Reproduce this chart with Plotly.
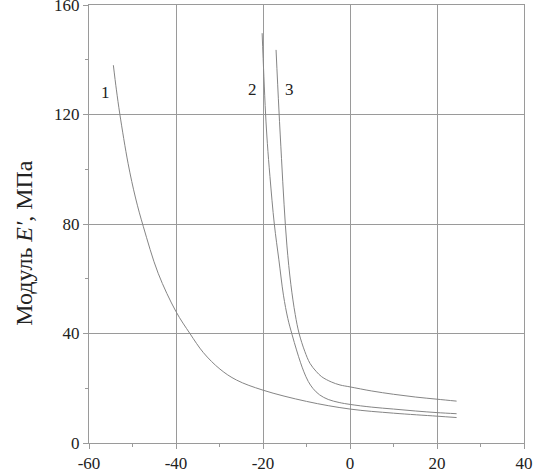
import plotly.graph_objects as go

LINE = "#858585"
GRID = "#9a9a9a"
FONT = "Liberation Serif, Times New Roman, serif"

# curve 1
x1 = [-54.4, -53.7, -52.9, -51.0, -49.3, -47.5, -44.1, -40.0, -36.8, -33.7, -29.9, -26.1, -20.0, -10.0, 0.0, 10.0, 20.0, 24.5]
y1 = [138.0, 129.0, 120.0, 102.0, 89.5, 79.0, 62.0, 48.0, 40.0, 33.0, 27.0, 23.0, 19.3, 15.2, 12.4, 10.9, 9.8, 9.3]

# curve 2
x2 = [-20.2, -19.8, -19.4, -19.0, -18.4, -17.4, -16.35, -15.3, -14.3, -13.3, -12.3, -11.4, -10.6,
      -9.6, -8.5, -7.0, -5.0, -2.5, 0.0, 5.0, 10.0, 15.0, 20.0, 24.5]
y2 = [149.7, 134.0, 120.0, 109.5, 97.3, 80.0, 66.9, 54.0, 45.5, 39.5, 34.0, 29.5, 26.0,
      22.5, 19.9, 17.6, 15.9, 14.8, 14.1, 13.1, 12.4, 11.7, 11.1, 10.7]

# curve 3
x3 = [-17.0, -16.35, -15.75, -15.15, -14.5, -13.6, -12.6, -11.7, -10.4, -9.2, -7.8, -6.5,
      -4.3, -2.3, 0.0, 5.0, 10.0, 15.0, 20.0, 24.5]
y3 = [143.6, 122.0, 104.0, 87.0, 72.0, 58.0, 47.0, 40.0, 33.5, 29.1, 26.2, 24.2,
      22.3, 21.2, 20.5, 19.0, 17.8, 16.8, 16.0, 15.3]

curves = [(x1, y1), (x2, y2), (x3, y3)]

# curve labels
label_text = ["1", "2", "3"]
label_x = [-56.3, -22.5, -14.0]
label_y = [128.0, 129.0, 129.0]

x_ticks = [-60, -40, -20, 0, 20, 40]
y_ticks = [0, 40, 80, 120, 160]

fig = go.Figure()
for cx, cy in curves:
    fig.add_trace(go.Scatter(
        x=cx, y=cy, mode="lines",
        line=dict(color=LINE, width=1, shape="spline", smoothing=1.0),
        showlegend=False, hoverinfo="skip",
    ))

for t, lx, ly in zip(label_text, label_x, label_y):
    fig.add_annotation(x=lx, y=ly, text=t, showarrow=False,
                       font=dict(family=FONT, size=17, color="#222"))

# y-axis title placed by hand so it sits where the original has it
fig.add_annotation(
    xref="paper", yref="paper", x=-0.184, y=0.457,
    text="Модуль <i>E'</i>, МПа", textangle=-90, showarrow=False,
    font=dict(family=FONT, size=24, color="#222"),
)

fig.update_layout(
    width=534, height=471,
    margin=dict(l=89, r=10, t=5, b=28, autoexpand=False),
    paper_bgcolor="white", plot_bgcolor="white",
    font=dict(family=FONT, size=17, color="#222"),
)
fig.update_xaxes(
    range=[-60, 40], tickvals=x_ticks, ticktext=[str(v) for v in x_ticks],
    showgrid=True, gridcolor=GRID, gridwidth=1, zeroline=False,
    showline=True, linecolor=GRID, linewidth=1, mirror=True,
    ticks="outside", ticklen=5, tickcolor=GRID, ticklabeloverflow="allow",
    automargin=False,
    minor=dict(dtick=10, tick0=-60, ticks="outside", ticklen=3, tickcolor=GRID, showgrid=False),
    tickfont=dict(family=FONT, size=17, color="#222"),
)
fig.update_yaxes(
    range=[0, 160], tickvals=y_ticks, ticktext=[str(v) for v in y_ticks],
    showgrid=True, gridcolor=GRID, gridwidth=1, zeroline=False,
    showline=True, linecolor=GRID, linewidth=1, mirror=True,
    ticks="outside", ticklen=5, tickcolor=GRID, ticklabeloverflow="allow",
    automargin=False,
    minor=dict(dtick=20, tick0=0, ticks="outside", ticklen=3, tickcolor=GRID, showgrid=False),
    tickfont=dict(family=FONT, size=17, color="#222"),
)

# page body has a default 8px margin; drop it so the figure sits at the corner
fig.write_html(
    "out.html",
    config={"displayModeBar": False},
    post_script="document.body.style.margin='0';document.body.style.overflow='hidden';",
)
